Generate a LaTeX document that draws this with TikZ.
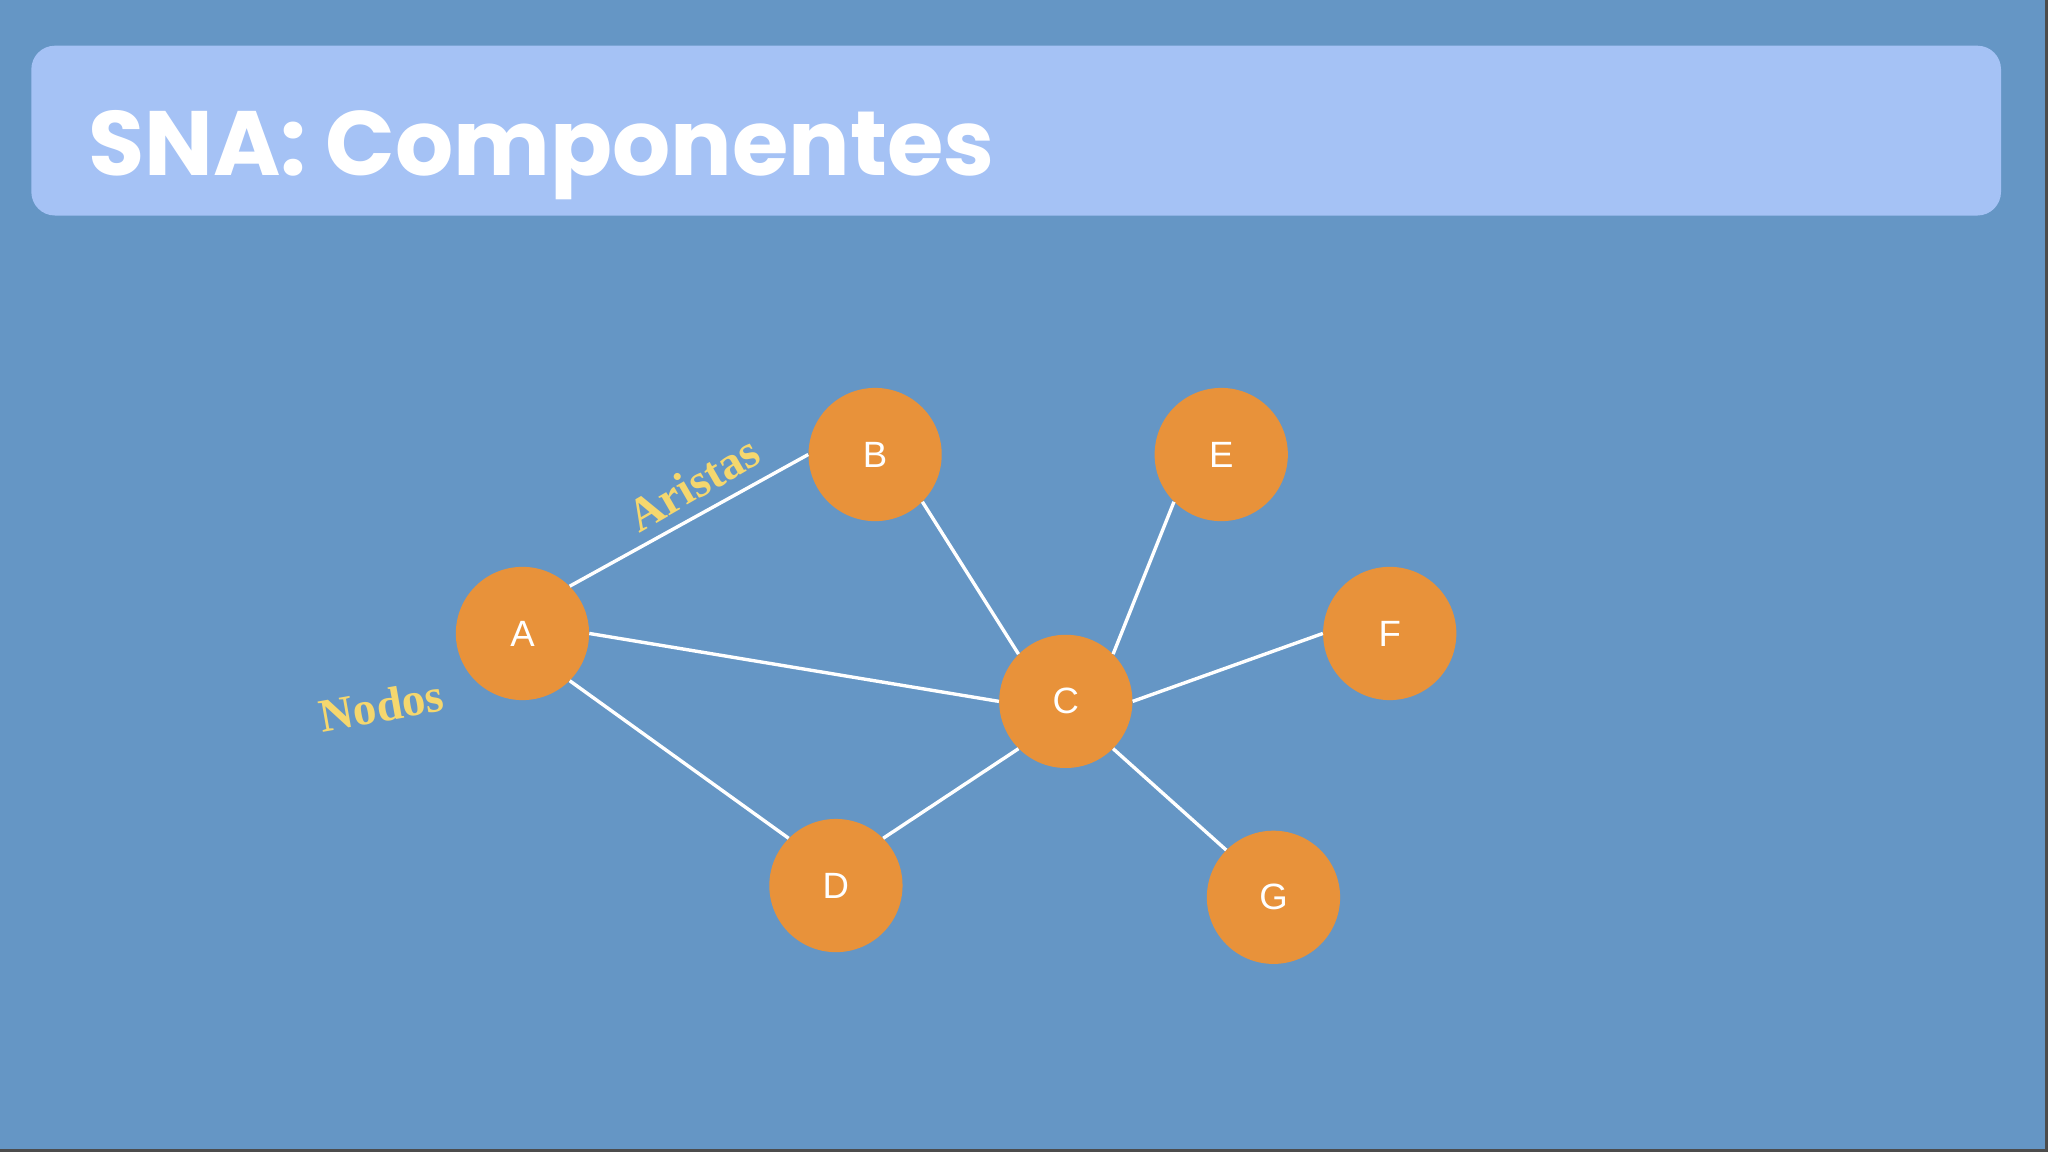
\documentclass[tikz,border=0pt]{standalone}
\usepackage{fontspec}
\setmainfont{Liberation Sans}
\newfontfamily\titlefont{Poppins}
\newfontfamily\serifb{Liberation Serif}
\definecolor{bg}{HTML}{6596C5}
\definecolor{band}{HTML}{A5C2F5}
\definecolor{nodeorange}{HTML}{E8923A}
\definecolor{lab}{HTML}{F5D76E}
\tikzset{
  vertex/.style={circle,fill=nodeorange,minimum size=102pt,inner sep=0pt,text=white,font=\fontsize{28}{30}\selectfont},
  edge/.style={white,line width=2.6pt},
  annot/.style={text=lab,font=\serifb\bfseries\fontsize{36}{38}\selectfont}
}
\begin{document}
\begin{tikzpicture}[x=1pt,y=-1pt]
\fill[bg] (0,0) rectangle (1568,882);
\useasboundingbox (0,0) rectangle (1568,882);
\draw[gray!60!black,line width=2pt] (1567,0) -- (1567,881) -- (0,881);
\fill[band,rounded corners=18pt] (24,35) rectangle (1532,165);
\node[anchor=base west,text=white,font=\titlefont\bfseries\fontsize{70}{74}\selectfont] (title) at (64,134) {SNA: Componentes};
\node[vertex] (A) at (400,485) {A};
\node[vertex] (B) at (670,348) {B};
\node[vertex] (E) at (935,348) {E};
\node[vertex] (F) at (1064,485) {F};
\node[vertex] (C) at (816,537) {C};
\node[vertex] (D) at (640,678) {D};
\node[vertex] (G) at (975,687) {G};
\draw[edge] (A.45) -- (B.west);
\draw[edge] (A.east) -- (C.west);
\draw[edge] (A.-45) -- (D.135);
\draw[edge] (B.-45) -- (C.135);
\draw[edge] (E.-135) -- (C.45);
\draw[edge] (F.west) -- (C.east);
\draw[edge] (D.45) -- (C.-135);
\draw[edge] (G.135) -- (C.-45);
\node[annot,rotate=30] (aristas) at (531,370) {Aristas};
\node[annot,rotate=10] (nodos) at (292,540) {Nodos};
\end{tikzpicture}
\end{document}
